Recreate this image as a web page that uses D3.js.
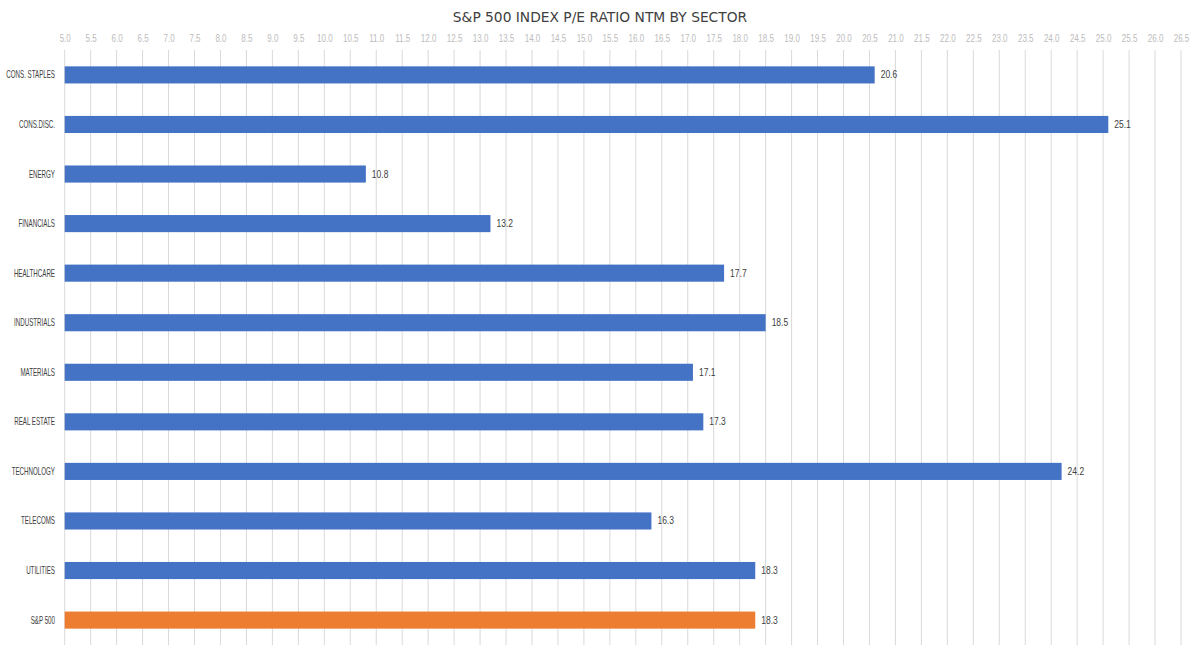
<!DOCTYPE html>
<html><head><meta charset="utf-8">
<script src="https://cdn.jsdelivr.net/npm/d3@7"></script>
<style>
body{margin:0;background:#fff;}
text{font-family:"Liberation Sans",Arial,sans-serif;}
</style></head>
<body><svg id="c" width="1200" height="656"></svg>
<script>
const categories = ["CONS. STAPLES","CONS.DISC.","ENERGY","FINANCIALS","HEALTHCARE","INDUSTRIALS","MATERIALS","REAL ESTATE","TECHNOLOGY","TELECOMS","UTILITIES","S&P 500"];
const values = [20.6,25.1,10.8,13.2,17.7,18.5,17.1,17.3,24.2,16.3,18.3,18.3];
const tickValues = d3.range(5, 26.51, 0.5);
const title = "S&P 500 INDEX P/E RATIO NTM BY SECTOR";

const svg = d3.select("#c");
const x = d3.scaleLinear().domain([5, 26.5]).range([64.7, 1181]);
const y = d3.scaleBand().domain(categories).range([50, 645]).paddingInner(0.655).paddingOuter(0.33);

svg.append("text").attr("x", 600).attr("y", 22).attr("text-anchor","middle")
  .style("font-family",'"DejaVu Sans",sans-serif')
  .attr("font-size", 13.8).attr("fill","#404040").text(title);

svg.append("g").selectAll("line").data(tickValues).enter().append("line")
  .attr("x1", d=>x(d)).attr("x2", d=>x(d)).attr("y1", 50).attr("y2", 645)
  .attr("stroke","#d9d9d9").attr("stroke-width",1);

const axis = d3.axisTop(x).tickValues(tickValues).tickFormat(d3.format(".1f")).tickSize(0).tickPadding(0);
const ax = svg.append("g").attr("transform","translate(0,42)").call(axis);
ax.select(".domain").remove();
ax.selectAll("text").attr("font-size", 10).attr("fill","#bcbcbc")
  .attr("transform","scale(0.8,1)")
  .style("font-family",'"Liberation Sans",Arial,sans-serif');

svg.selectAll("rect.bar").data(values).enter().append("rect")
  .attr("x", x(5)).attr("y", (d,i)=>y(categories[i]))
  .attr("width", d=>x(d)-x(5)).attr("height", y.bandwidth())
  .attr("fill", (d,i)=> categories[i]==="S&P 500" ? "#ED7D31" : "#4472C4");

svg.selectAll("text.val").data(values).enter().append("text")
  .attr("transform", (d,i)=>`translate(${x(d)+6},${y(categories[i])+y.bandwidth()/2}) scale(0.85,1)`)
  .attr("dy","0.35em").attr("font-size", 10).attr("fill","#404040")
  .text(d=>d3.format(".1f")(d));

svg.selectAll("text.cat").data(categories).enter().append("text")
  .attr("transform", d=>`translate(55,${y(d)+y.bandwidth()/2}) scale(0.62,1)`)
  .attr("dy","0.35em")
  .attr("text-anchor","end").attr("font-size", 10).attr("fill","#404040").text(d=>d);
</script></body></html>
